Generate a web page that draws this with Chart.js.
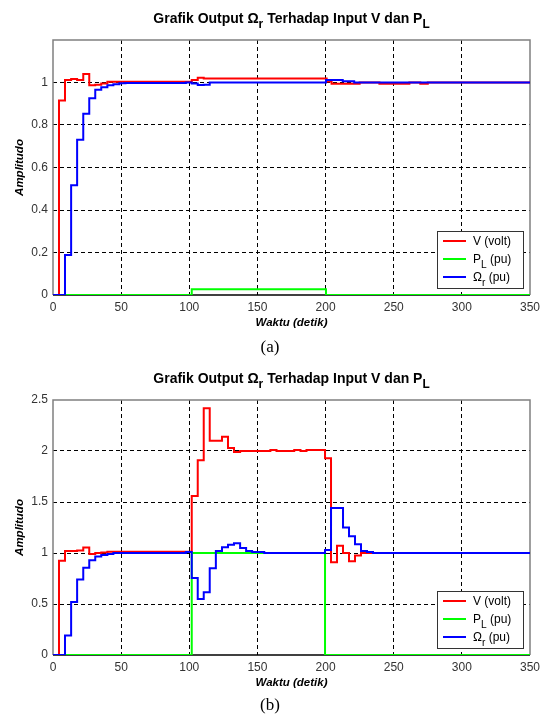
<!DOCTYPE html>
<html>
<head>
<meta charset="utf-8">
<script src="https://cdn.jsdelivr.net/npm/chart.js@4.4.0/dist/chart.umd.min.js"></script>
<style>
  body { margin: 0; background: #fff; }
  #wrap { position: relative; width: 540px; height: 715px; }
  canvas { position: absolute; left: 0; }
  .cap { position: absolute; left: 0; width: 540px; text-align: center;
         font-family: "Liberation Serif", "Times New Roman", serif; font-size: 17px; color: #000; }
</style>
</head>
<body>
<div id="wrap">
  <canvas id="chartA" width="540" height="340" style="top:0"></canvas>
  <div class="cap" style="top:337px">(a)</div>
  <canvas id="chartB" width="540" height="340" style="top:360px"></canvas>
  <div class="cap" style="top:695px">(b)</div>
</div>
<script>
// sumbu
const ticksX = [0, 50, 100, 150, 200, 250, 300, 350];
const ticksYA = [0, 0.2, 0.4, 0.6, 0.8, 1];
const ticksYB = [0, 0.5, 1, 1.5, 2, 2.5];

// (a) waktu (detik) dan nilai, ditahan sampai titik berikutnya
const tVoltA = [0, 4.4, 8.8, 13.3, 17.7, 22.2, 26.6, 31.0, 35.4, 39.9, 101.8, 106.2, 110.6, 200.8, 204.4, 225.0, 239.5, 261.5, 269.5, 275.0, 350];
const voltA  = [0, 0.915, 1.012, 1.016, 1.012, 1.04, 0.987, 0.99, 0.995, 1.003, 1.012, 1.022, 1.019, 1.005, 0.994, 1.0, 0.994, 1.0, 0.994, 1.0, 1.0];
const tLoadA = [0, 101.8, 200.3, 350];
const loadA  = [0, 0.027, 0, 0];
const tSpeedA = [0, 8.8, 13.3, 17.7, 22.2, 26.6, 31.0, 35.4, 39.9, 44.3, 48.7, 53.2, 97.5, 101.8, 106.2, 110.6, 115.0, 200.3, 212.6, 221.0, 350];
const speedA  = [0, 0.188, 0.516, 0.731, 0.853, 0.926, 0.966, 0.978, 0.987, 0.992, 0.996, 0.998, 1.0, 0.995, 0.988, 0.99, 1.0, 1.012, 1.006, 1.0, 1.0];

// (b)
const tVoltB = [0, 4.4, 8.8, 13.3, 17.7, 22.2, 26.6, 31.0, 35.4, 39.9, 101.8, 106.2, 110.6, 115.0, 124.0, 128.4, 132.8, 137.3, 159.5, 164.0, 177.0, 181.6, 186.0, 199.6, 204.0, 208.4, 212.8, 217.2, 221.6, 226.0, 350];
const voltB  = [0, 0.925, 1.02, 1.02, 1.025, 1.055, 0.99, 1.0, 1.005, 1.012, 1.56, 1.91, 2.42, 2.1, 2.14, 2.03, 1.99, 2.0, 2.01, 2.0, 2.01, 2.0, 2.01, 1.93, 0.91, 1.07, 1.0, 0.92, 0.975, 1.0, 1.0];
const tLoadB = [0, 101.8, 199.6, 350];
const loadB  = [0, 1, 0, 0];
const tSpeedB = [0, 8.8, 13.3, 17.7, 22.2, 26.6, 31.0, 35.4, 39.9, 44.3, 97.5, 101.8, 106.2, 110.6, 115.0, 119.5, 124.0, 128.4, 132.8, 137.3, 141.7, 146.1, 155.0, 199.6, 204.0, 212.8, 217.2, 221.6, 226.0, 230.4, 234.8, 350];
const speedB  = [0, 0.19, 0.52, 0.74, 0.855, 0.93, 0.965, 0.98, 0.99, 1.0, 1.01, 0.755, 0.55, 0.615, 0.85, 1.02, 1.056, 1.08, 1.095, 1.05, 1.02, 1.01, 1.0, 1.03, 1.44, 1.25, 1.165, 1.085, 1.02, 1.01, 1.0, 1.0];

const SANS = '"Liberation Sans", Arial, Helvetica, sans-serif';

function pts(t, v) {
  return t.map((x, i) => ({ x: x, y: v[i] }));
}

// teks dengan subskrip
function drawParts(ctx, parts, x, y, size, bold, align) {
  const f = (s) => (bold ? 'bold ' : '') + s + 'px ' + SANS;
  let w = 0;
  parts.forEach(p => {
    ctx.font = f(p[1] ? size * 0.85 : size);
    w += ctx.measureText(p[0]).width;
  });
  let cx = align === 'center' ? x - w / 2 : x;
  ctx.textAlign = 'left';
  ctx.textBaseline = 'alphabetic';
  parts.forEach(p => {
    ctx.font = f(p[1] ? size * 0.85 : size);
    ctx.fillText(p[0], cx, p[1] ? y + 5 : y);
    cx += ctx.measureText(p[0]).width;
  });
}

const decor = {
  id: 'decor',
  beforeDatasetsDraw(chart) {
    const { ctx, chartArea: a } = chart;
    ctx.save();
    ctx.lineWidth = 1.5;
    ctx.strokeStyle = '#808080';
    ctx.beginPath();
    ctx.moveTo(a.left, a.bottom);
    ctx.lineTo(a.left, a.top);
    ctx.lineTo(a.right, a.top);
    ctx.lineTo(a.right, a.bottom);
    ctx.stroke();
    ctx.strokeStyle = '#000';
    ctx.beginPath();
    ctx.moveTo(a.left, a.bottom);
    ctx.lineTo(a.right, a.bottom);
    ctx.stroke();
    ctx.restore();
  },
  afterDraw(chart) {
    const { ctx, chartArea: a } = chart;
    ctx.save();
    ctx.fillStyle = '#000';
    drawParts(ctx, [['Grafik Output \u03A9', false], ['r', true], [' Terhadap Input V dan P', false], ['L', true]],
      (a.left + a.right) / 2, 23, 14, true, 'center');

    // legenda
    const bx = 437, by = 231, bw = 86, bh = 57;
    ctx.fillStyle = '#fff';
    ctx.fillRect(bx, by, bw, bh);
    ctx.strokeStyle = '#333';
    ctx.lineWidth = 1;
    ctx.strokeRect(bx + 0.5, by + 0.5, bw, bh);
    const rows = [
      ['#ff0000', [['V (volt)', false]]],
      ['#00ff00', [['P', false], ['L', true], [' (pu)', false]]],
      ['#0000ff', [['\u03A9', false], ['r', true], [' (pu)', false]]]
    ];
    rows.forEach((r, i) => {
      const y = by + 10 + i * 18;
      ctx.strokeStyle = r[0];
      ctx.lineWidth = 2;
      ctx.beginPath();
      ctx.moveTo(bx + 6, y);
      ctx.lineTo(bx + 29, y);
      ctx.stroke();
      ctx.fillStyle = '#000';
      drawParts(ctx, r[1], bx + 36, y + 4, 12, false, 'left');
    });
    ctx.restore();
  }
};

function makeChart(id, tV, vV, tP, vP, tW, vW, yMax, yTicks) {
  new Chart(document.getElementById(id), {
    type: 'line',
    data: {
      datasets: [
        { label: 'V (volt)', data: pts(tV, vV), borderColor: '#ff0000', order: 2 },
        { label: 'P_L (pu)', data: pts(tP, vP), borderColor: '#00ff00', order: 1 },
        { label: '\u03A9_r (pu)', data: pts(tW, vW), borderColor: '#0000ff', order: 0 }
      ]
    },
    options: {
      responsive: false,
      animation: false,
      devicePixelRatio: 1,
      layout: { padding: { left: 0, right: 10, top: 40, bottom: 0 } },
      elements: {
        point: { radius: 0 },
        line: { borderWidth: 2, stepped: true, tension: 0, fill: false }
      },
      plugins: { legend: { display: false }, tooltip: { enabled: false } },
      scales: {
        x: {
          type: 'linear', min: 0, max: 350,
          afterBuildTicks: s => { s.ticks = ticksX.map(v => ({ value: v })); },
          afterFit: s => { s.height = 45; s.paddingLeft = 0; s.paddingRight = 0; },
          ticks: { font: { family: SANS, size: 12 }, color: '#333', padding: 5, maxRotation: 0, autoSkip: false,
                   callback: v => String(v) },
          grid: {
            drawTicks: false, lineWidth: 1,
            color: c => (c.tick && (c.tick.value === 0 || c.tick.value === 350)) ? 'rgba(0,0,0,0)' : '#000'
          },
          border: { display: false, dash: [4, 3] },
          title: { display: true, text: 'Waktu (detik)', color: '#000',
                   font: { family: SANS, size: 11.5, weight: 'bold', style: 'italic' }, padding: { top: 0, bottom: 10 } }
        },
        y: {
          min: 0, max: yMax,
          afterBuildTicks: s => { s.ticks = yTicks.map(v => ({ value: v })); },
          afterFit: s => { s.width = 53; },
          ticks: { font: { family: SANS, size: 12 }, color: '#333', padding: 5, callback: v => String(v) },
          grid: {
            drawTicks: false, lineWidth: 1,
            color: c => (c.tick && (c.tick.value === 0 || c.tick.value === yMax)) ? 'rgba(0,0,0,0)' : '#000'
          },
          border: { display: false, dash: [4, 3] },
          title: { display: true, text: 'Amplitudo', color: '#000',
                   font: { family: SANS, size: 11.5, weight: 'bold', style: 'italic' }, padding: { top: 13, bottom: 0 } }
        }
      }
    },
    plugins: [decor]
  });
}

makeChart('chartA', tVoltA, voltA, tLoadA, loadA, tSpeedA, speedA, 1.2, ticksYA);
makeChart('chartB', tVoltB, voltB, tLoadB, loadB, tSpeedB, speedB, 2.5, ticksYB);
</script>
</body>
</html>
